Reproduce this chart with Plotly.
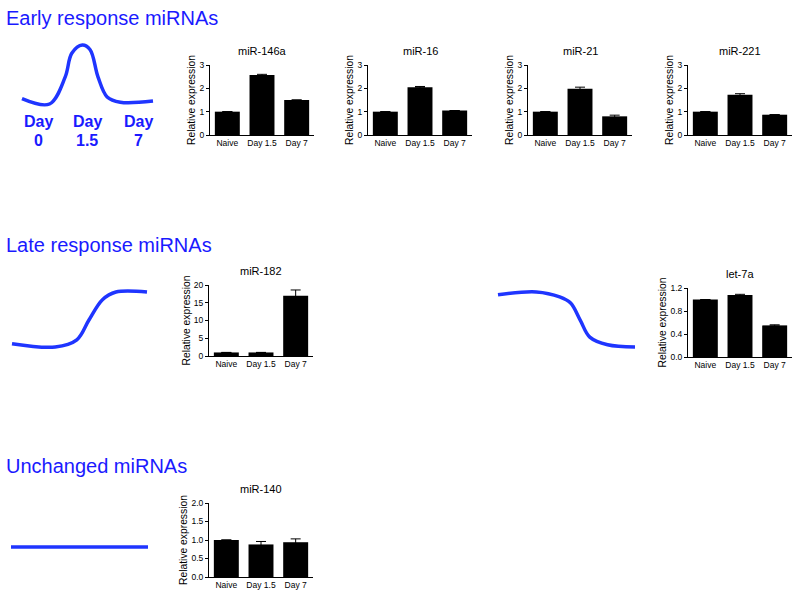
import plotly.graph_objects as go

W, H = 800, 598

# ---------------- data ----------------
categories = ["Naive", "Day 1.5", "Day 7"]

mir146a = [1.0, 2.57, 1.50]
mir146a_err = [0.0, 0.03, 0.0]
mir16 = [1.0, 2.05, 1.05]
mir16_err = [0.0, 0.03, 0.0]
mir21 = [1.0, 1.98, 0.80]
mir21_err = [0.0, 0.07, 0.05]
mir221 = [1.0, 1.73, 0.87]
mir221_err = [0.0, 0.04, 0.0]
mir182 = [1.0, 1.0, 17.0]
mir182_err = [0.0, 0.0, 1.6]
let7a = [1.0, 1.08, 0.55]
let7a_err = [0.0, 0.01, 0.01]
mir140 = [1.0, 0.88, 0.94]
mir140_err = [0.0, 0.08, 0.09]

# schematic response curves (time fraction, relative level)
early_t = [0.0, 0.21, 0.33, 0.38, 0.46, 0.52, 0.58, 0.65, 0.75, 1.0]
early_lvl = [0.09, 0.0, 0.46, 0.86, 1.0, 0.92, 0.46, 0.12, 0.03, 0.05]
late_t = [0.0, 0.32, 0.48, 0.57, 0.67, 0.77, 1.0]
late_lvl = [0.06, 0.0, 0.13, 0.49, 0.86, 1.0, 1.0]
down_t = [0.0, 0.28, 0.45, 0.53, 0.60, 0.67, 0.80, 1.0]
down_lvl = [0.95, 1.0, 0.91, 0.80, 0.49, 0.18, 0.04, 0.0]
flat_t = [0.0, 1.0]
flat_lvl = [0.5, 0.5]

headings = ["Early response miRNAs", "Late response miRNAs", "Unchanged miRNAs"]
day_words = ["Day", "Day", "Day"]
day_nums = ["0", "1.5", "7"]

# ---------------- layout helpers ----------------
FONT = "Liberation Sans, Arial, Helvetica, sans-serif"
BLUE_TXT = "#1a1aff"
BLUE_LINE = "#1f35ff"


def fx(x):
    return x / W


def fy(y):
    return 1 - y / H


def dx(x0, x1):
    return [fx(x0), fx(x1)]


def dy(ytop, ybot):
    return [max(0.0, fy(ybot)), min(1.0, fy(ytop))]


fig = go.Figure()
layout = dict(
    width=W, height=H, autosize=False,
    margin=dict(l=0, r=0, t=0, b=0, pad=0),
    paper_bgcolor="white", plot_bgcolor="white",
    showlegend=False, font=dict(family=FONT, color="black"),
)
annotations = []

panels = [
    # title, values, errors, ymax, dtick, fmt, box (x0, x1, ytop, ybot)
    ("miR-146a", mir146a, mir146a_err, 3, 1, "d", (210, 314, 65, 135)),
    ("miR-16", mir16, mir16_err, 3, 1, "d", (368, 472, 65, 135)),
    ("miR-21", mir21, mir21_err, 3, 1, "d", (528, 632, 65, 135)),
    ("miR-221", mir221, mir221_err, 3, 1, "d", (688, 792, 65, 135)),
    ("miR-182", mir182, mir182_err, 20, 5, "d", (209, 313, 285, 356)),
    ("let-7a", let7a, let7a_err, 1.2, 0.4, ".1f", (688, 792, 288, 357)),
    ("miR-140", mir140, mir140_err, 2.0, 0.5, ".1f", (209, 313, 503, 577)),
]

ax = 0
for title, vals, errs, ymax, dt, fmt, (x0, x1, yt, yb) in panels:
    ax += 1
    xa = "x" if ax == 1 else f"x{ax}"
    ya = "y" if ax == 1 else f"y{ax}"
    fig.add_trace(go.Bar(
        x=categories, y=vals, width=0.72,
        marker=dict(color="black", line=dict(width=0)),
        error_y=dict(type="data", array=errs, visible=True, color="black",
                     thickness=1, width=5),
        xaxis=xa, yaxis=ya, hoverinfo="skip",
    ))
    kx = "xaxis" if ax == 1 else f"xaxis{ax}"
    ky = "yaxis" if ax == 1 else f"yaxis{ax}"
    layout[kx] = dict(domain=dx(x0, x1), anchor=ya, range=[-0.5, 2.5],
                      showline=True, linecolor="black", linewidth=1,
                      ticks="", showgrid=False, zeroline=False,
                      automargin=False,
                      tickfont=dict(size=8.5, family=FONT, color="black"),
                      fixedrange=True)
    layout[ky] = dict(domain=dy(yt, yb), anchor=xa, range=[0, ymax],
                      dtick=dt, tick0=0, tickformat=fmt,
                      showline=True, linecolor="black", linewidth=1,
                      ticks="outside", ticklen=3, tickwidth=1, tickcolor="black",
                      showgrid=False, zeroline=False, automargin=False,
                      title=dict(text="Relative expression", standoff=1,
                                 font=dict(size=10.3, family=FONT, color="black")),
                      tickfont=dict(size=8.5, family=FONT, color="black"),
                      fixedrange=True)
    annotations.append(dict(text=title, xref="paper", yref="paper",
                            x=fx((x0 + x1) / 2), y=fy(yt - 14),
                            xanchor="center", yanchor="middle", showarrow=False,
                            font=dict(size=11, family=FONT, color="black")))

# schematic curves
curves = [
    (early_t, early_lvl, (22, 153, 45, 104)),
    (late_t, late_lvl, (12, 147, 292, 347)),
    (down_t, down_lvl, (498, 635, 292, 347)),
    (flat_t, flat_lvl, (11, 148, 537, 557)),
]
PAD = 0.3
for ts, lv, (x0, x1, yt, yb) in curves:
    wpx, hpx = x1 - x0, yb - yt
    for shadow in (True, False):
        ax += 1
        off = 2 if shadow else 0
        xa, ya = f"x{ax}", f"y{ax}"
        fig.add_trace(go.Scatter(
            x=ts, y=lv, mode="lines", line_shape="spline",
            line=dict(color="rgba(60,60,60,0.22)" if shadow else BLUE_LINE,
                      width=4.5 if shadow else 3.5),
            xaxis=xa, yaxis=ya, hoverinfo="skip",
        ))
        layout[f"xaxis{ax}"] = dict(
            domain=dx(x0 - PAD * wpx * 0.2 + off, x1 + PAD * wpx * 0.2 + off),
            range=[-PAD * 0.2, 1 + PAD * 0.2], visible=False, anchor=ya,
            fixedrange=True)
        layout[f"yaxis{ax}"] = dict(
            domain=dy(yt - PAD * hpx + off, yb + PAD * hpx + off),
            range=[-PAD, 1 + PAD], visible=False, anchor=xa, fixedrange=True)

# headings
for txt, ypx in zip(headings, [18, 245, 466]):
    annotations.append(dict(text=txt, xref="paper", yref="paper",
                            x=fx(4), y=fy(ypx), xanchor="left",
                            yanchor="middle", showarrow=False,
                            font=dict(size=20, family=FONT, color=BLUE_TXT)))

# day labels under the early curve
for w, n, xc in zip(day_words, day_nums, [38, 87, 138]):
    annotations.append(dict(text=f"<b>{w}</b>", xref="paper", yref="paper",
                            x=fx(xc), y=fy(122), xanchor="center",
                            yanchor="middle", showarrow=False,
                            font=dict(size=16, family=FONT, color=BLUE_TXT)))
    annotations.append(dict(text=f"<b>{n}</b>", xref="paper", yref="paper",
                            x=fx(xc), y=fy(140), xanchor="center",
                            yanchor="middle", showarrow=False,
                            font=dict(size=16, family=FONT, color=BLUE_TXT)))

layout["annotations"] = annotations
fig.update_layout(**layout)
fig.write_html("out.html",
               config={"displayModeBar": False},
               post_script="document.body.style.margin='0';"
                           "document.body.style.overflow='hidden';")
